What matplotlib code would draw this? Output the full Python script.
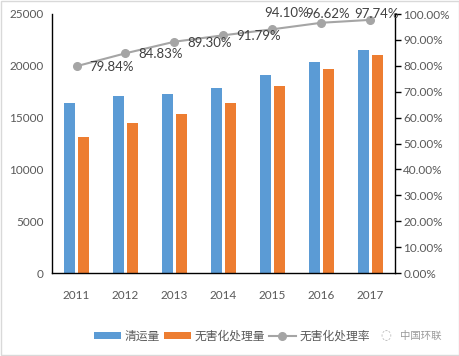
import matplotlib
matplotlib.use("Agg")
import matplotlib.pyplot as plt
from matplotlib.patches import Rectangle
from matplotlib.ticker import FuncFormatter, MultipleLocator

plt.rcParams['font.family'] = ['Lato', 'Noto Sans CJK SC', 'DejaVu Sans']

years = ['2011', '2012', '2013', '2014', '2015', '2016', '2017']
collected = [16395, 17081, 17239, 17860, 19142, 20362, 21521]
treated = [13090, 14490, 15394, 16394, 18013, 19674, 21034]
rate = [79.84, 84.83, 89.30, 91.79, 94.10, 96.62, 97.74]

BLUE = '#5B9BD5'
ORANGE = '#ED7D31'
GRAY = '#A5A5A5'
TXT = '#595959'

W, H = 460, 356
fig = plt.figure(figsize=(W / 100, H / 100), dpi=100)
fig.patches.append(Rectangle((0.002, 0.003), 0.995, 0.994, transform=fig.transFigure,
                             fill=False, edgecolor='#D9D9D9', linewidth=1))

ax = fig.add_axes([52 / W, (H - 273) / H, 343 / W, 259 / H])
x = list(range(len(years)))
bw = 0.22
b1 = ax.bar([i - 0.14 for i in x], collected, width=bw, color=BLUE, label='清运量')
b2 = ax.bar([i + 0.14 for i in x], treated, width=bw, color=ORANGE, label='无害化处理量')
ax.set_xlim(-0.5, len(years) - 0.5)
ax.set_ylim(0, 25000)
ax.yaxis.set_major_locator(MultipleLocator(5000))
ax.set_xticks(x)
ax.set_xticklabels(years)
ax.tick_params(axis='both', length=0, labelsize=8.5, colors=TXT, pad=6)
ax.tick_params(axis='x', pad=12)
for s in ['top', 'right']:
    ax.spines[s].set_visible(False)
for s in ['left', 'bottom']:
    ax.spines[s].set_color('black')
    ax.spines[s].set_linewidth(1)

ax2 = ax.twinx()
ln, = ax2.plot(x, rate, color=GRAY, linewidth=1.5, marker='o', markersize=5.5,
               label='无害化处理率')
ax2.set_ylim(0, 100)
ax2.yaxis.set_major_locator(MultipleLocator(10))
ax2.yaxis.set_major_formatter(FuncFormatter(lambda v, p: f'{v:.2f}%'))
ax2.tick_params(axis='y', length=4, width=1, color='black', labelsize=8.5, labelcolor=TXT, pad=2)
for s in ['top', 'left', 'bottom']:
    ax2.spines[s].set_visible(False)
ax2.spines['right'].set_color('black')
ax2.spines['right'].set_linewidth(1)

offsets = [(13, -1, 'left', 'center'), (13, -1, 'left', 'center'), (13, -1, 'left', 'center'),
           (13, -1, 'left', 'center'), (14, 16, 'center', 'center'), (6, 9, 'center', 'center'),
           (6, 6, 'center', 'center')]
for i, (v, (dx, dy, ha, va)) in enumerate(zip(rate, offsets)):
    ax2.annotate(f'{v:.2f}%', (i, v), xytext=(dx, dy), textcoords='offset pixels',
                 ha=ha, va=va, fontsize=9.5, color='#404040')

leg = fig.legend(handles=[b1, b2, ln], loc='center', bbox_to_anchor=(232 / W, (H - 336) / H),
                 ncol=3, frameon=False, fontsize=8.5, handlelength=2.3, handleheight=0.5,
                 columnspacing=0.3, handletextpad=0.3, labelcolor=TXT)
fig.text(400 / W, (H - 336) / H, '中国环联', fontsize=7.5, color='#9a9a9a', va='center', ha='left')
fig.text(386 / W, (H - 336) / H, '◌', fontsize=9, color='#b0b0b0', va='center', ha='center',
         family=['DejaVu Sans'])

fig.savefig('out.png', dpi=100)
